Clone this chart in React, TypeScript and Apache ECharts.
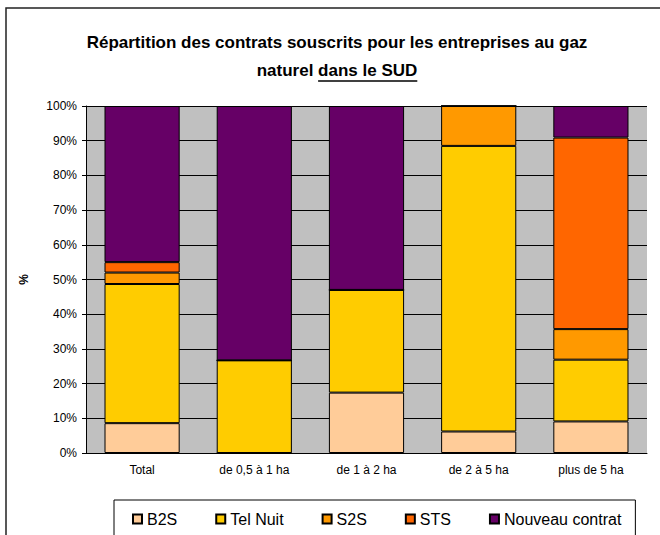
import React, { useEffect, useRef } from "react";
import * as echarts from "echarts";

const categories = ["Total", "de 0,5 à 1 ha", "de 1 à 2 ha", "de 2 à 5 ha", "plus de 5 ha"];
const seriesNames = ["B2S", "Tel Nuit", "S2S", "STS", "Nouveau contrat"];
const b2s = [8.6, 0, 17.4, 6.2, 9.1];
const telNuit = [40.1, 26.7, 29.6, 82.3, 17.8];
const s2s = [3.3, 0, 0, 11.5, 8.8];
const sts = [3.0, 0, 0, 0, 55.2];
const nouveau = [45.0, 73.3, 53.0, 0, 9.1];
const colors = ["#FFCC99", "#FFCC00", "#FF9900", "#FF6600", "#660066"];

const titleLine1 = "Répartition des contrats souscrits pour les entreprises au gaz";
const titleLine2a = "naturel ";
const titleLine2b = "dans le SUD";

export default function App() {
  const ref = useRef<HTMLDivElement>(null);
  useEffect(() => {
    document.body.style.margin = "0";
    if (!ref.current) return;
    const chart = echarts.init(ref.current, null, { renderer: "svg" });
    const font = "'Liberation Sans', Arial, sans-serif";
    const ctx = document.createElement("canvas").getContext("2d")!;
    ctx.font = `bold 17px ${font}`;
    const wA = ctx.measureText(titleLine2a).width;
    const wB = ctx.measureText(titleLine2b).width;
    const cx = 337;
    const start2 = cx - (wA + wB) / 2;
    const values = [b2s, telNuit, s2s, sts, nouveau];
    chart.setOption({
      animation: false,
      graphic: [
        {
          type: "rect",
          shape: { x: 6, y: 8, width: 720, height: 620 },
          style: { fill: "none", stroke: "#222", lineWidth: 1.5 },
          silent: true,
        },
        {
          type: "text",
          x: cx,
          y: 42,
          style: {
            text: titleLine1,
            fontSize: 17,
            fontWeight: "bold",
            fontFamily: font,
            fill: "#000",
            textAlign: "center",
            textVerticalAlign: "middle",
          },
        },
        {
          type: "text",
          x: cx,
          y: 70,
          style: {
            text: titleLine2a + titleLine2b,
            fontSize: 17,
            fontWeight: "bold",
            fontFamily: font,
            fill: "#000",
            textAlign: "center",
            textVerticalAlign: "middle",
          },
        },
        {
          type: "line",
          shape: { x1: start2 + wA, y1: 81, x2: start2 + wA + wB, y2: 81 },
          style: { stroke: "#000", lineWidth: 1.5 },
        },
      ],
      grid: {
        left: 86,
        top: 106,
        right: 13,
        bottom: 82,
        show: true,
        backgroundColor: "#C0C0C0",
        borderWidth: 0,
      },
      legend: {
        left: 114,
        top: 500,
        itemWidth: 9,
        itemHeight: 9,
        itemGap: 38,
        padding: [11, 14, 30, 18],
        borderColor: "#000",
        borderWidth: 1,
        icon: "rect",
        textStyle: { fontSize: 16, fontFamily: font, color: "#000" },
        data: seriesNames,
      },
      xAxis: {
        type: "category",
        data: categories,
        axisLine: { lineStyle: { color: "#000", width: 1 } },
        axisTick: { length: 4, lineStyle: { color: "#000" } },
        axisLabel: { fontSize: 12, fontFamily: font, color: "#000", margin: 11 },
      },
      yAxis: {
        type: "value",
        min: 0,
        max: 100,
        interval: 10,
        name: "%",
        nameLocation: "middle",
        nameRotate: 90,
        nameGap: 56,
        nameTextStyle: { fontSize: 12, fontWeight: "bold", fontFamily: font, color: "#000" },
        axisLine: { show: true, lineStyle: { color: "#000", width: 1 } },
        axisTick: { show: true, length: 4, lineStyle: { color: "#000" } },
        axisLabel: { formatter: "{value}%", fontSize: 12, fontFamily: font, color: "#000", margin: 9 },
        splitLine: { show: true, lineStyle: { color: "#000", width: 1 } },
      },
      series: seriesNames.map((name, i) => ({
        name,
        type: "bar",
        stack: "total",
        barCategoryGap: "33%",
        data: values[i],
        itemStyle: { color: colors[i], borderColor: "#000", borderWidth: 1 },
      })),
    });
    return () => chart.dispose();
  }, []);
  return <div ref={ref} style={{ width: 660, height: 535 }} />;
}
